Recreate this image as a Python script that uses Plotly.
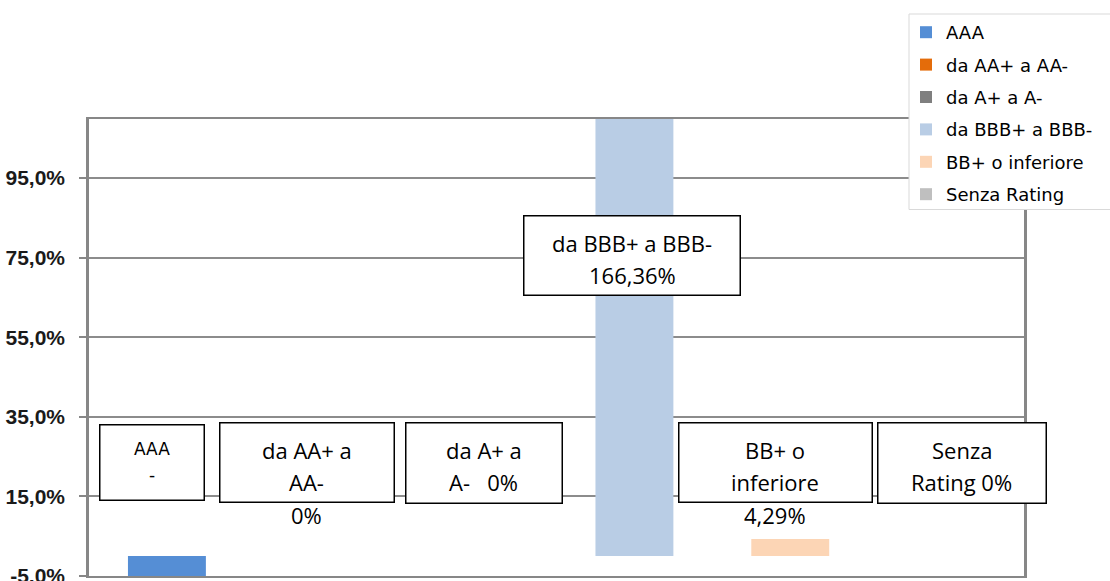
import plotly.graph_objects as go

# Rating buckets, their values (in %) and bar colours
categories = ["AAA", "da AA+ a AA-", "da A+ a A-", "da BBB+ a BBB-", "BB+ o inferiore", "Senza Rating"]
values = [-6.0, 0.0, 0.0, 166.36, 4.29, 0.0]
colors = ["#558ED5", "#E46C0A", "#7F7F7F", "#B9CDE5", "#FCD5B5", "#BFBFBF"]

y_tick_values = [-5, 15, 35, 55, 75, 95]
y_tick_labels = ["-5,0%", "15,0%", "35,0%", "55,0%", "75,0%", "95,0%"]


def pct(v):
    if v == 0:
        return "0%"
    return f"{v:.2f}".replace(".", ",") + "%"


value_texts = ["-"] + [pct(v) for v in values[1:]]

# Data-label text, wrapped line by line
label_lines = [
    ["AAA", value_texts[0]],
    ["da AA+ a", "AA-", value_texts[1]],
    ["da A+ a", "A-\u00a0\u00a0\u00a0" + value_texts[2]],
    ["da BBB+ a BBB-", value_texts[3]],
    ["BB+ o", "inferiore", value_texts[4]],
    ["Senza", "Rating " + value_texts[5]],
]

# Data-label box placement (anchor in data units, offsets/sizes in px)
box_y = [23.5, 23.5, 23.5, 75.5, 23.5, 23.5]
box_dx = [-14.5, -16, 5, -2, -15, 15.6]
box_w = [106, 176, 158, 218, 195, 170]
box_h = [77, 81, 82, 81, 81, 82]
box_border = 1.5

fig = go.Figure()

for i, (name, v, c) in enumerate(zip(categories, values, colors)):
    fig.add_trace(go.Bar(
        x=[i], y=[v], name=name, marker=dict(color=c, line=dict(width=0)),
        width=0.5, legendgroup=name, hoverinfo="skip",
    ))

annotations = []
for i, lines in enumerate(label_lines):
    # white framed box behind the label text
    annotations.append(dict(
        x=i, y=box_y[i], xref="x", yref="y", text="\u00a0", showarrow=False,
        xshift=box_dx[i], xanchor="center", yanchor="middle",
        width=box_w[i] - 2 * box_border, height=box_h[i] - 2 * box_border,
        borderpad=0, borderwidth=box_border, bordercolor="#000000", bgcolor="#FFFFFF",
        font=dict(size=10),
    ))
    if i == 0:
        font = dict(family="DejaVu Sans", size=17, color="#000000")
        first, step = 13.8, 26
    else:
        font = dict(family="Open Sans", size=22, color="#000000")
        first, step = 13, 32.5
    for k, txt in enumerate(lines):
        annotations.append(dict(
            x=i, y=box_y[i], xref="x", yref="y", text=txt, showarrow=False,
            xshift=box_dx[i], yshift=first - step * k,
            xanchor="center", yanchor="middle", font=font,
        ))

# Legend frame
shapes = [dict(
    type="rect", xref="paper", yref="paper",
    x0=(909 - 89) / 935, x1=1.12, y0=(576 - 209.5) / 457, y1=(576 - 14) / 457,
    line=dict(color="#D9D9D9", width=1), fillcolor="#FFFFFF", layer="above",
)]

fig.update_layout(
    width=1110, height=581,
    margin=dict(l=89, r=86, t=119, b=5, autoexpand=False),
    paper_bgcolor="#FFFFFF", plot_bgcolor="#FFFFFF",
    barmode="overlay",
    showlegend=True,
    legend=dict(
        x=(906 - 89) / 935, y=(576 - 14) / 457, xanchor="left", yanchor="top",
        xref="paper", yref="paper",
        bgcolor="rgba(0,0,0,0)", borderwidth=0,
        font=dict(family="DejaVu Sans", size=18, color="#000000"),
        traceorder="grouped", tracegroupgap=6,
    ),
    xaxis=dict(
        range=[-0.5, 5.5], showticklabels=False, ticks="", showgrid=False,
        zeroline=False, showline=True, mirror=True, linecolor="#878787", linewidth=2,
        automargin=False,
    ),
    yaxis=dict(
        range=[-5, 109.8], tickvals=y_tick_values, ticktext=y_tick_labels,
        ticks="outside", ticklen=7, tickcolor="#878787", tickwidth=1.5,
        ticklabelstandoff=10, ticklabeloverflow="allow", automargin=False,
        showgrid=True, gridcolor="#8C8C8C", gridwidth=1.5, zeroline=False,
        showline=True, mirror=True, linecolor="#878787", linewidth=2.5,
        tickfont=dict(family="Liberation Sans", size=21, color="#1A1A1A", weight="bold"),
    ),
    shapes=shapes,
    annotations=annotations,
)

fig.write_html("out.html")
